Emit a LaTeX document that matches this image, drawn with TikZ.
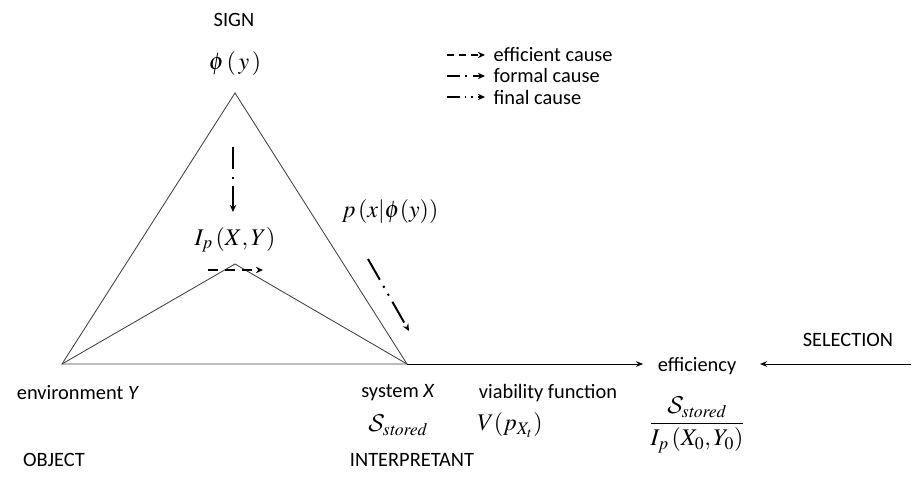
\documentclass[tikz,border=0pt]{standalone}
\usepackage{amsmath}
\usepackage{mathptmx}
\DeclareMathAlphabet{\mathcal}{OMS}{cmsy}{m}{n}
\usepackage{fontspec}
\setmainfont{Carlito}
\usepackage{tikz}
\usetikzlibrary{arrows.meta,positioning}
\definecolor{lineGray}{HTML}{404040}
\tikzset{
    every picture/.style={font=\fontsize{14.5}{17}\selectfont},
    % text labels
    lbl/.style={inner sep=1pt, anchor=center},
    mathlbl/.style={inner sep=1pt, anchor=center, font=\fontsize{17}{20}\selectfont},
    % plain triangle edges
    edge/.style={draw=lineGray, line width=0.6pt},
    % cause arrows
    cause/.style={-{Stealth[length=5pt,width=4.5pt]}, line width=1.4pt},
    efficient/.style={cause, dash pattern=on 7pt off 5pt},
    formal/.style={cause, dash pattern=on 16pt off 5pt on 1.5pt off 5pt},
    final/.style={cause, dash pattern=on 17pt off 5pt on 1.5pt off 5pt on 1.5pt off 5pt},
    % shorter patterns for the key
    keyefficient/.style={cause, dash pattern=on 5pt off 3.5pt},
    keyformal/.style={cause, dash pattern=on 9pt off 4pt on 1.3pt off 4pt},
    keyfinal/.style={cause, dash pattern=on 9pt off 3.5pt on 1.3pt off 3.5pt on 1.3pt off 3.5pt},
    flow/.style={-{Stealth[length=5pt,width=4pt]}, draw=black, line width=0.6pt}
}

\begin{document}
\begin{tikzpicture}[x=0.025cm, y=-0.025cm]
    \useasboundingbox (0,0) rectangle (912,484);

    % corners of the triangle
    \coordinate (apex) at (235,93);
    \coordinate (obj) at (62,364);
    \coordinate (sys) at (407,364);
    \coordinate (peak) at (235,264);
    \coordinate (effend) at (643,364);
    \coordinate (selstart) at (911,364);
    \coordinate (selend) at (760,364);

    % triangle and inner wedge
    \draw[edge] (obj) -- (apex) -- (sys) -- cycle;
    \draw[edge] (obj) -- (peak) -- (sys);
    \draw[flow] (sys) -- (effend);
    \draw[flow] (selstart) -- (selend);

    % labels at the corners
    \node[lbl] (sign) at (234,20) {SIGN};
    \node[mathlbl] (phi) at (235,64) {$\phi\left(\,y\,\right)$};
    \node[mathlbl] (ip) at (235,240) {$I_p\left(X,Y\right)$};
    \node[mathlbl] (cond) at (390,212) {$p\left(x\middle|\phi(y)\right)$};
    \node[lbl] (env) at (78,393) {environment \textit{Y}};
    \node[lbl] (sysx) at (398,393) {system \textit{X}};
    \node[lbl] (viab) at (548,393) {viability function};
    \node[lbl] (eff) at (697,366) {efficiency};
    \node[lbl] (sel) at (848,340) {SELECTION};
    \node[mathlbl] (stored) at (398,425) {$\mathcal{S}_{\mathit{stored}}$};
    \node[mathlbl] (vfun) at (510,425) {$V(p_{X_t})$};
    \node[mathlbl] (ratio) at (697,425) {$\dfrac{\mathcal{S}_{\mathit{stored}}}{I_p\left(X_0,Y_0\right)}$};
    \node[lbl] (object) at (54,460) {OBJECT};
    \node[lbl] (interp) at (412,460) {INTERPRETANT};

    % cause arrows
    \coordinate (fa) at (233,147);
    \coordinate (fb) at (233,212);
    \draw[formal] (fa) -- (fb);
    \coordinate (ea) at (208,270);
    \coordinate (eb) at (263,270);
    \draw[efficient] (ea) -- (eb);
    \coordinate (na) at (368,259);
    \coordinate (nb) at (409,331);
    \draw[final] (na) -- (nb);

    % legend
    \coordinate (l1a) at (447,55);
    \coordinate (l1b) at (485,55);
    \draw[keyefficient] (l1a) -- (l1b);
    \node[lbl, anchor=west] (leg1) at (492,55) {efficient cause};
    \coordinate (l2a) at (447,76);
    \coordinate (l2b) at (485,76);
    \draw[keyformal] (l2a) -- (l2b);
    \node[lbl, anchor=west] (leg2) at (492,76) {formal cause};
    \coordinate (l3a) at (447,97);
    \coordinate (l3b) at (485,97);
    \draw[keyfinal] (l3a) -- (l3b);
    \node[lbl, anchor=west] (leg3) at (492,97) {final cause};
\end{tikzpicture}
\end{document}
